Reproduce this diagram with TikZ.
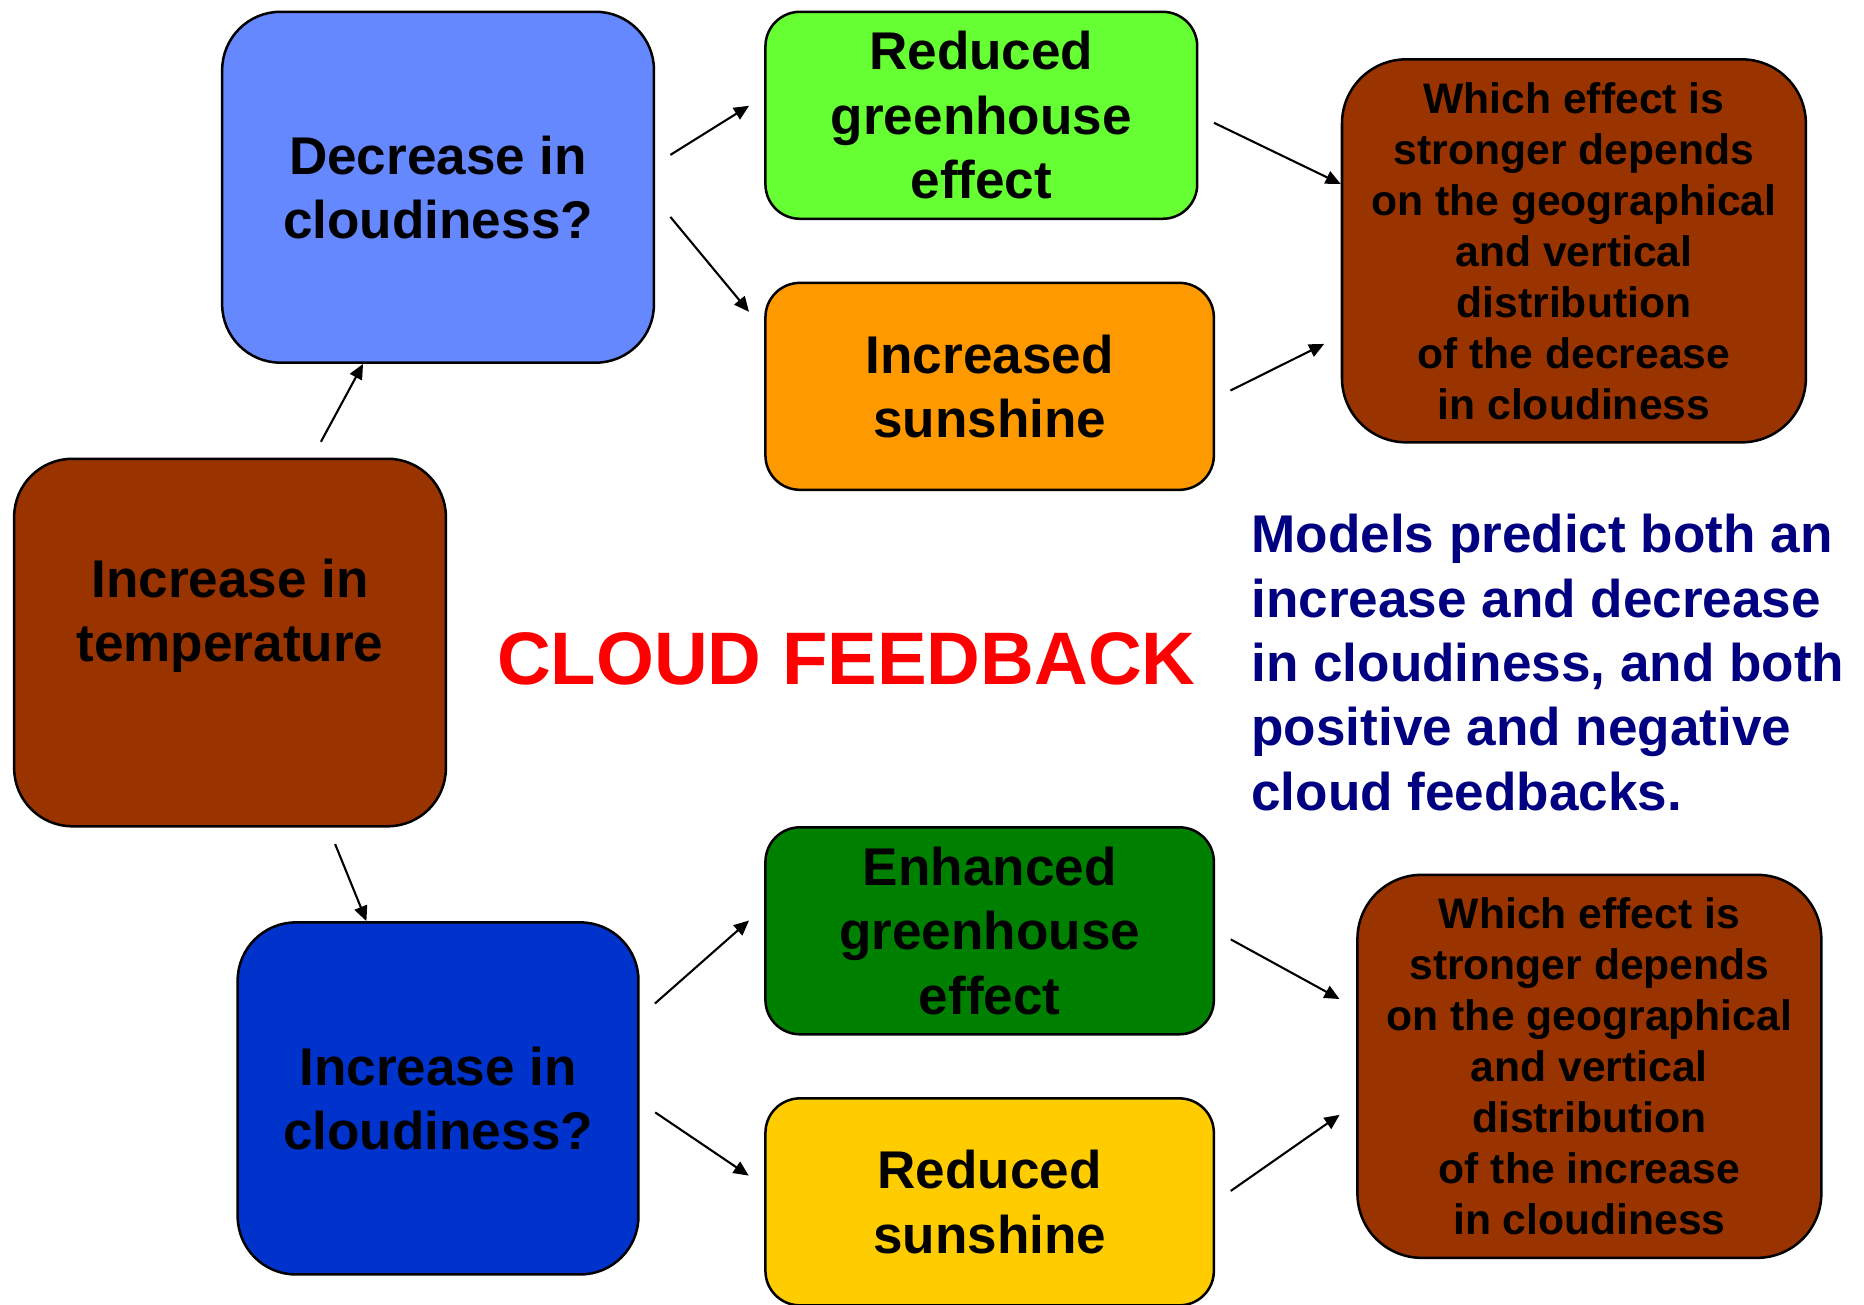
\documentclass[tikz,border=0pt]{standalone}
\usepackage{fontspec}
\setmainfont{Liberation Sans}
\usetikzlibrary{positioning, arrows.meta}

\definecolor{skyblue}{HTML}{6688FF}
\definecolor{deepblue}{HTML}{0033CC}
\definecolor{limegreen}{HTML}{66FF33}
\definecolor{darkgreen}{HTML}{008000}
\definecolor{sunorange}{HTML}{FF9900}
\definecolor{sunyellow}{HTML}{FFCC00}
\definecolor{rust}{HTML}{993300}
\definecolor{navy}{HTML}{000080}

\tikzstyle{box} = [rectangle, draw, line width=0.6pt, align=center, inner sep=0pt, font=\fontsize{12.7}{15.4}\selectfont\bfseries]
\tikzstyle{cause} = [box, minimum width=3.63cm, rounded corners=0.49cm]
\tikzstyle{effect} = [box, minimum width=3.77cm, minimum height=1.74cm, rounded corners=0.29cm]
\tikzstyle{verdict} = [box, fill=rust, minimum width=3.9cm, minimum height=3.22cm, rounded corners=0.54cm, font=\fontsize{10.2}{12.2}\selectfont\bfseries]
\tikzstyle{arrow} = [line width=0.5pt, -{Triangle[length=3.6pt, width=3.2pt]}]

\begin{document}
\begin{tikzpicture}[x=0.01cm, y=-0.01cm]
  \useasboundingbox (0,0) rectangle (1568,1097);

  % Starting point
  \node (temp) [cause, fill=rust, minimum height=3.09cm] at (193.5,540.5) {Increase in\\temperature\\\mbox{}};

  % Upper branch: fewer clouds
  \node (decr_cloud) [cause, fill=skyblue, minimum height=2.95cm] at (368.5,157.5) {Decrease in\\cloudiness?};
  \node (less_ghg) [effect, fill=limegreen, minimum width=3.63cm] at (825.5,97) {Reduced\\greenhouse\\effect};
  \node (more_sun) [effect, fill=sunorange] at (832.5,325) {Increased\\sunshine};
  \node (which_decr) [verdict] at (1324,211) {Which effect is\\stronger depends\\on the geographical\\and vertical\\distribution\\of the decrease\\in cloudiness};

  % Lower branch: more clouds
  \node (incr_cloud) [cause, fill=deepblue, minimum width=3.37cm, minimum height=2.96cm] at (368.5,924) {Increase in\\cloudiness?};
  \node (more_ghg) [effect, fill=darkgreen] at (832.5,783) {Enhanced\\greenhouse\\effect};
  \node (less_sun) [effect, fill=sunyellow] at (832.5,1011) {Reduced\\sunshine};
  \node (which_incr) [verdict] at (1337,897) {Which effect is\\stronger depends\\on the geographical\\and vertical\\distribution\\of the increase\\in cloudiness};

  % Headline and side note
  \node (title) [font=\fontsize{17.8}{20}\selectfont\bfseries, text=red, inner sep=0pt] at (712,554) {CLOUD FEEDBACK};
  \node (note) [anchor=north west, align=left, inner sep=0pt, text=navy, font=\fontsize{12.7}{15.4}\selectfont\bfseries] at (1052,432) {Models predict both an\\increase and decrease\\in cloudiness, and both\\positive and negative\\cloud feedbacks.};

  % Arrows
  \draw[arrow, shorten <=0.15cm] (temp.66.9) -- (decr_cloud.247.4);
  \draw[arrow, shorten <=0.15cm] (temp.298) -- (incr_cloud.112.4);
  \draw[arrow, shorten <=0.15cm, shorten >=0.15cm] (decr_cloud.6.3) -- (less_ghg.175.4);
  \draw[arrow, shorten <=0.2cm, shorten >=0.2cm] (decr_cloud.-3.1) -- (more_sun.166.8);
  \draw[arrow, shorten <=0.145cm] (less_ghg.0.4) -- (which_decr.164.1);
  \draw[arrow, shorten <=0.144cm, shorten >=0.155cm] (more_sun.-3.7) -- (which_decr.200.9);
  \draw[arrow, shorten <=0.17cm, shorten >=0.17cm] (incr_cloud.22.6) -- (more_ghg.174.6);
  \draw[arrow, shorten <=0.157cm, shorten >=0.157cm] (incr_cloud.-1.4) -- (less_sun.176.9);
  \draw[arrow, shorten <=0.15cm, shorten >=0.16cm] (more_ghg.0.4) -- (which_incr.166.4);
  \draw[arrow, shorten <=0.16cm, shorten >=0.17cm] (less_sun.-0.6) -- (which_incr.189.1);

\end{tikzpicture}
\end{document}
